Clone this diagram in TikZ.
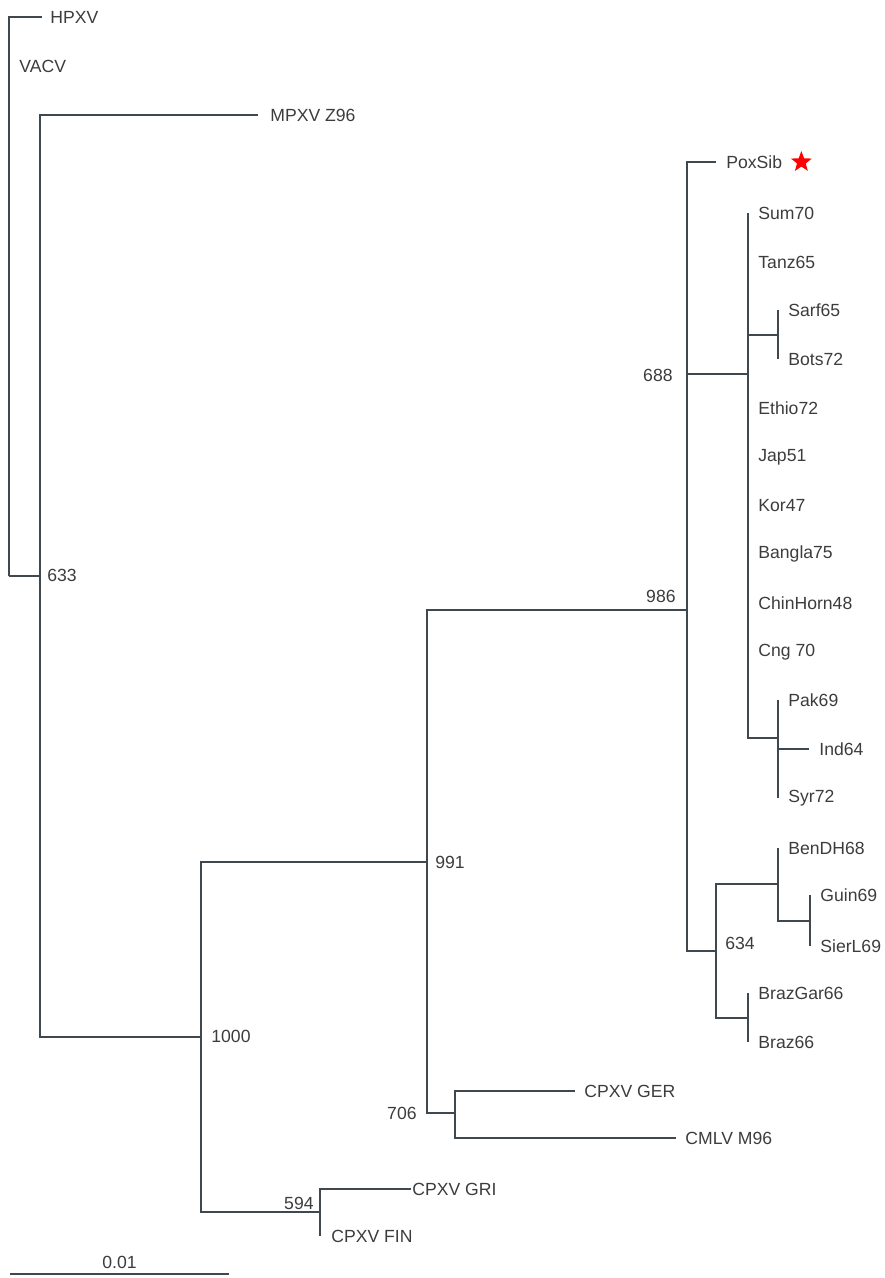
\documentclass[tikz,border=0pt]{standalone}
\usepackage{fontspec}
\setmainfont{Liberation Sans}
\usetikzlibrary{positioning,shapes.geometric,calc}
\definecolor{treegrey}{RGB}{62,72,78}
\definecolor{labelgrey}{RGB}{60,60,60}
\begin{document}
\begin{tikzpicture}[
		x=0.5pt, y=-0.5pt,
		branch/.style={draw=treegrey, line width=0.7pt},
		taxon/.style={anchor=west, inner sep=0pt, text=labelgrey, font=\fontsize{8.8}{10}\selectfont},
		boot/.style={inner sep=0pt, text=labelgrey, font=\fontsize{8.8}{10}\selectfont}
	]
		\useasboundingbox (0,0) rectangle (884,1278);

		% Internal nodes
		\coordinate (root) at (9,576);
		\coordinate (n633) at (40,576);
		\coordinate (n1000) at (201,1037);
		\coordinate (n991) at (427,862);
		\coordinate (n594) at (320,1212);
		\coordinate (n986) at (687,610);
		\coordinate (n706) at (455,1113);
		\coordinate (n688) at (748,374);
		\coordinate (nSB) at (778,335);
		\coordinate (nPIS) at (778,738);
		\coordinate (n634) at (716,951);
		\coordinate (nBGS) at (778,884);
		\coordinate (nGS) at (810,921);
		\coordinate (nBraz) at (748,1018);

		% Leaf tips
		\coordinate (tHPXV) at (42,17);
		\coordinate (tVACV) at (9,66);
		\coordinate (tMPXV) at (258,115);
		\coordinate (tGRI) at (411,1189);
		\coordinate (tFIN) at (320,1236);
		\coordinate (tGER) at (575,1091);
		\coordinate (tCMLV) at (676,1138);
		\coordinate (tPoxSib) at (716,162);
		\coordinate (tSum) at (748,213);
		\coordinate (tTanz) at (748,262);
		\coordinate (tSarf) at (778,310);
		\coordinate (tBots) at (778,359);
		\coordinate (tEthio) at (748,408);
		\coordinate (tJap) at (748,457);
		\coordinate (tKor) at (748,506);
		\coordinate (tBangla) at (748,554);
		\coordinate (tChin) at (748,603);
		\coordinate (tCng) at (748,652);
		\coordinate (tPak) at (778,700);
		\coordinate (tInd) at (809,749);
		\coordinate (tSyr) at (778,798);
		\coordinate (tBenDH) at (778,848);
		\coordinate (tGuin) at (810,895);
		\coordinate (tSierL) at (810,946);
		\coordinate (tBrazGar) at (748,993);
		\coordinate (tBraz) at (748,1042);

		% Taxon labels
		\node[taxon, right=4pt of tHPXV] (HPXV) {HPXV};
		\node[taxon, right=5pt of tVACV] (VACV) {VACV};
		\node[taxon, right=6pt of tMPXV] (MPXV) {MPXV Z96};
		\node[taxon, right=0.5pt of tGRI] (GRI) {CPXV GRI};
		\node[taxon, right=5.5pt of tFIN] (FIN) {CPXV FIN};
		\node[taxon, right=4.5pt of tGER] (GER) {CPXV GER};
		\node[taxon, right=4.5pt of tCMLV] (CMLV) {CMLV M96};
		\node[taxon, right=5pt of tPoxSib] (PoxSib) {PoxSib};
		\node[taxon, right=5pt of tSum] (Sum70) {Sum70};
		\node[taxon, right=5pt of tTanz] (Tanz65) {Tanz65};
		\node[taxon, right=5pt of tSarf] (Sarf65) {Sarf65};
		\node[taxon, right=5pt of tBots] (Bots72) {Bots72};
		\node[taxon, right=5pt of tEthio] (Ethio72) {Ethio72};
		\node[taxon, right=5pt of tJap] (Jap51) {Jap51};
		\node[taxon, right=5pt of tKor] (Kor47) {Kor47};
		\node[taxon, right=5pt of tBangla] (Bangla75) {Bangla75};
		\node[taxon, right=5pt of tChin] (ChinHorn48) {ChinHorn48};
		\node[taxon, right=5pt of tCng] (Cng70) {Cng 70};
		\node[taxon, right=5pt of tPak] (Pak69) {Pak69};
		\node[taxon, right=5pt of tInd] (Ind64) {Ind64};
		\node[taxon, right=5pt of tSyr] (Syr72) {Syr72};
		\node[taxon, right=5pt of tBenDH] (BenDH68) {BenDH68};
		\node[taxon, right=5pt of tGuin] (Guin69) {Guin69};
		\node[taxon, right=5pt of tSierL] (SierL69) {SierL69};
		\node[taxon, right=5pt of tBrazGar] (BrazGar66) {BrazGar66};
		\node[taxon, right=5pt of tBraz] (Braz66) {Braz66};
		\node[star, star points=5, star point ratio=2.4, fill=red, inner sep=0pt, minimum size=11pt, right=6pt of PoxSib] (star) {};

		% Bootstrap values
		\node[boot, anchor=west] (b633) at (47,575) {633};
		\node[boot, anchor=west] (b1000) at (211,1036) {1000};
		\node[boot, anchor=west] (b991) at (435,862) {991};
		\node[boot, anchor=east] (b594) at (314,1203) {594};
		\node[boot, anchor=east] (b986) at (676,596) {986};
		\node[boot, anchor=east] (b706) at (417,1113) {706};
		\node[boot, anchor=east] (b688) at (673,375) {688};
		\node[boot, anchor=west] (b634) at (725,943) {634};

		% Branches
		\draw[branch] (root) |- (tHPXV);
		\draw[branch] (root) |- (tVACV);
		\draw[branch] (root) |- (n633);
		\draw[branch] (n633) |- (tMPXV);
		\draw[branch] (n633) |- (n1000);
		\draw[branch] (n1000) |- (n991);
		\draw[branch] (n1000) |- (n594);
		\draw[branch] (n594) |- (tGRI);
		\draw[branch] (n594) |- (tFIN);
		\draw[branch] (n991) |- (n986);
		\draw[branch] (n991) |- (n706);
		\draw[branch] (n706) |- (tGER);
		\draw[branch] (n706) |- (tCMLV);
		\draw[branch] (n986) |- (tPoxSib);
		\draw[branch] (n986) |- (n688);
		\draw[branch] (n986) |- (n634);
		\foreach \t in {tSum,tTanz,nSB,tEthio,tJap,tKor,tBangla,tChin,tCng,nPIS}
			\draw[branch] (n688) |- (\t);
		\draw[branch] (nSB) |- (tSarf);
		\draw[branch] (nSB) |- (tBots);
		\draw[branch] (nPIS) |- (tPak);
		\draw[branch] (nPIS) |- (tInd);
		\draw[branch] (nPIS) |- (tSyr);
		\draw[branch] (n634) |- (nBGS);
		\draw[branch] (n634) |- (nBraz);
		\draw[branch] (nBGS) |- (tBenDH);
		\draw[branch] (nBGS) |- (nGS);
		\draw[branch] (nGS) |- (tGuin);
		\draw[branch] (nGS) |- (tSierL);
		\draw[branch] (nBraz) |- (tBrazGar);
		\draw[branch] (nBraz) |- (tBraz);

		% Scale bar
		\coordinate (sbL) at (10,1274);
		\coordinate (sbR) at (229,1274);
		\draw[branch] (sbL) -- (sbR);
		\node[boot, above=2.5pt of $(sbL)!0.5!(sbR)$] (sblabel) {0.01};
	\end{tikzpicture}
\end{document}
